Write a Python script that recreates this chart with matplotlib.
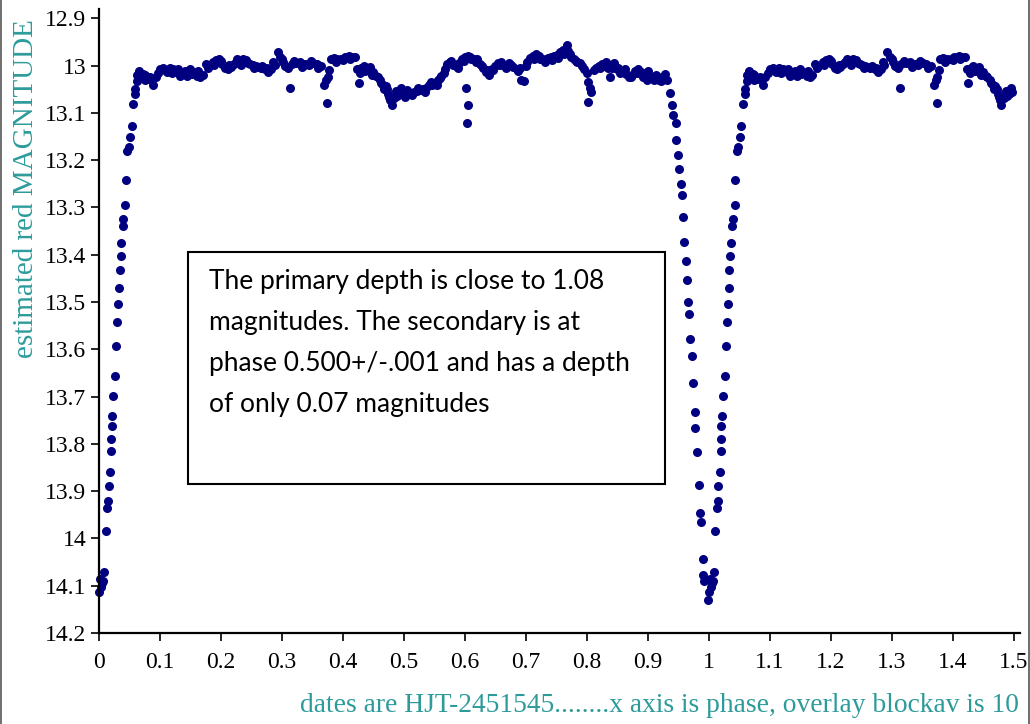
"""Phase-folded light curve of an eclipsing binary (red magnitude)."""
import numpy as np
import matplotlib
matplotlib.use("Agg")
import matplotlib.pyplot as plt
from matplotlib.patches import Rectangle

# --- data (phase 0..1; phase < 0.5 is repeated at +1)
phase_egress = [0.000, 0.002, 0.004, 0.005, 0.007, 0.009, 0.011, 0.0136, 0.0145,
                0.016, 0.018, 0.0197, 0.0205, 0.0208, 0.0218, 0.0234, 0.026,
                0.0279, 0.030, 0.0316, 0.0328, 0.0339, 0.0355, 0.0365, 0.0388,
                0.039, 0.0426, 0.0437, 0.046, 0.0486, 0.051, 0.0536, 0.056,
                0.059, 0.062, 0.066]
mag_egress = [14.114, 14.085, 14.103, 14.095, 14.089, 14.070, 13.984, 13.936, 13.920,
              13.889, 13.860, 13.816, 13.790, 13.763, 13.740, 13.698, 13.657,
              13.592, 13.543, 13.505, 13.471, 13.433, 13.402, 13.375, 13.339,
              13.324, 13.294, 13.242, 13.180, 13.173, 13.150, 13.127, 13.082,
              13.059, 13.033, 13.014]

phase_plateau = [
    0.059, 0.062, 0.066, 0.070, 0.072, 0.075, 0.075, 0.080, 0.084, 0.089, 0.093,
    0.097, 0.100, 0.105, 0.108, 0.111, 0.116, 0.119, 0.121, 0.128, 0.130, 0.133,
    0.138, 0.141, 0.144, 0.149, 0.152, 0.154, 0.161, 0.163, 0.166, 0.170, 0.175,
    0.178, 0.180, 0.187, 0.189, 0.192, 0.197, 0.200, 0.202, 0.207, 0.211, 0.213,
    0.216, 0.221, 0.224, 0.226, 0.231, 0.233, 0.236, 0.241, 0.245, 0.248, 0.252,
    0.255, 0.257, 0.262, 0.265, 0.267, 0.272, 0.275, 0.277, 0.282, 0.285, 0.288,
    0.293, 0.297, 0.300, 0.302, 0.305, 0.310, 0.313, 0.316, 0.320, 0.323, 0.330,
    0.333, 0.336, 0.338, 0.344, 0.347, 0.351, 0.357, 0.360, 0.364, 0.369, 0.372,
    0.374, 0.375, 0.377, 0.380, 0.385, 0.388, 0.390, 0.397, 0.400, 0.403, 0.410,
    0.412, 0.415, 0.420, 0.423, 0.426, 0.428, 0.430, 0.434, 0.437, 0.439, 0.444,
    0.447, 0.449, 0.454, 0.457, 0.461, 0.463, 0.466, 0.468, 0.470, 0.472, 0.474,
    0.476, 0.477, 0.480, 0.484, 0.487, 0.489, 0.492, 0.495, 0.497, 0.502, 0.505,
    0.507, 0.511, 0.514, 0.516, 0.521, 0.524, 0.526, 0.531, 0.534, 0.536, 0.541,
    0.544, 0.546, 0.551, 0.554, 0.556, 0.559, 0.561, 0.566, 0.568, 0.570, 0.575,
    0.578, 0.580, 0.585, 0.588, 0.590, 0.595, 0.598, 0.600, 0.602, 0.603, 0.605,
    0.605, 0.608, 0.610, 0.615, 0.618, 0.620, 0.625, 0.628, 0.630, 0.634, 0.637,
    0.639, 0.644, 0.647, 0.649, 0.654, 0.657, 0.659, 0.664, 0.668, 0.672, 0.676,
    0.679, 0.685, 0.688, 0.690, 0.692, 0.697, 0.700, 0.702, 0.707, 0.711, 0.713,
    0.716, 0.721, 0.723, 0.726, 0.731, 0.733, 0.736, 0.741, 0.743, 0.746, 0.751,
    0.753, 0.756, 0.761, 0.763, 0.767, 0.769, 0.772, 0.774, 0.779, 0.782, 0.784,
    0.789, 0.792, 0.795, 0.800, 0.802, 0.802, 0.805, 0.807, 0.812, 0.815, 0.820,
    0.822, 0.825, 0.830, 0.832, 0.834, 0.838, 0.839, 0.842, 0.844, 0.849, 0.852,
    0.854, 0.859, 0.862, 0.864, 0.869, 0.872, 0.874, 0.879, 0.882, 0.884, 0.889,
    0.892, 0.893, 0.898, 0.901, 0.903, 0.908, 0.911, 0.913, 0.918, 0.921, 0.923,
    0.926, 0.928, 0.931]
mag_plateau = [
    13.050, 13.020, 13.011, 13.025, 13.018, 13.030, 13.020, 13.028, 13.023, 13.040, 13.025,
    13.015, 13.008, 13.006, 13.010, 13.013, 13.004, 13.016, 13.008, 13.013, 13.008, 13.021,
    13.015, 13.012, 13.021, 13.008, 13.018, 13.013, 13.021, 13.012, 13.025, 13.019, 12.996,
    13.006, 13.000, 12.992, 12.998, 12.989, 12.985, 12.990, 12.996, 13.006, 13.008, 12.998,
    13.002, 12.996, 12.993, 12.987, 12.992, 12.998, 12.985, 12.989, 12.994, 12.996, 12.998,
    13.006, 13.000, 13.002, 13.006, 13.000, 13.008, 13.004, 13.013, 13.008, 12.992, 12.998,
    12.972, 12.981, 12.985, 12.992, 13.000, 13.004, 13.047, 12.996, 12.990, 12.994, 12.992,
    13.002, 12.998, 12.996, 12.998, 12.990, 12.994, 12.996, 13.004, 13.000, 13.040, 13.030,
    13.078, 13.023, 13.010, 12.987, 12.983, 12.993, 12.987, 12.985, 12.988, 12.981, 12.979,
    12.985, 12.981, 12.981, 13.008, 13.036, 13.015, 13.004, 13.000, 13.012, 13.008, 13.002,
    13.020, 13.013, 13.021, 13.025, 13.030, 13.036, 13.040, 13.050, 13.044, 13.049, 13.061,
    13.066, 13.072, 13.083, 13.068, 13.053, 13.064, 13.059, 13.048, 13.055, 13.066, 13.052,
    13.061, 13.057, 13.062, 13.055, 13.053, 13.047, 13.051, 13.049, 13.055, 13.047, 13.042,
    13.034, 13.040, 13.038, 13.040, 13.030, 13.026, 13.021, 13.015, 13.008, 12.996, 12.992,
    12.990, 12.998, 13.000, 13.004, 12.994, 12.987, 12.990, 12.981, 13.047, 13.121, 13.083,
    12.979, 12.982, 12.987, 12.985, 12.993, 12.987, 12.996, 13.000, 13.004, 13.013, 13.010,
    13.019, 13.008, 13.010, 13.000, 12.994, 12.998, 12.992, 12.998, 13.006, 12.994, 12.998,
    13.002, 13.008, 13.012, 13.004, 13.030, 13.032, 13.000, 12.992, 12.983, 12.979, 12.987,
    12.975, 12.979, 12.985, 12.987, 12.992, 12.985, 12.983, 12.981, 12.988, 12.979, 12.977,
    12.983, 12.972, 12.966, 12.975, 12.956, 12.970, 12.975, 12.981, 12.987, 12.990, 12.992,
    12.994, 13.000, 13.008, 13.015, 13.034, 13.076, 13.047, 13.055, 13.010, 13.004, 13.000,
    13.006, 12.996, 13.000, 12.992, 13.004, 13.025, 12.998, 13.004, 12.994, 13.008, 13.004,
    13.015, 13.013, 13.008, 13.017, 13.023, 13.025, 13.019, 13.011, 13.016, 13.008, 13.013,
    13.020, 13.025, 13.030, 13.012, 13.021, 13.025, 13.030, 13.019, 13.030, 13.032, 13.023,
    13.025, 13.017, 13.030]

phase_ingress = [0.936, 0.939, 0.941, 0.946, 0.947, 0.950, 0.951, 0.954, 0.956,
                 0.957, 0.959, 0.963, 0.964, 0.966, 0.968, 0.970, 0.972, 0.974,
                 0.977, 0.978, 0.981, 0.984, 0.985, 0.987, 0.990, 0.991, 0.993,
                 0.998]
mag_ingress = [13.057, 13.083, 13.104, 13.121, 13.157, 13.188, 13.218, 13.250, 13.273,
               13.320, 13.372, 13.413, 13.453, 13.500, 13.526, 13.579, 13.615, 13.672,
               13.732, 13.766, 13.818, 13.886, 13.946, 13.966, 14.044, 14.078, 14.089,
               14.130]

x_ticks = [0, 0.1, 0.2, 0.3, 0.4, 0.5, 0.6, 0.7, 0.8, 0.9, 1.0, 1.1, 1.2, 1.3, 1.4, 1.5]
x_labels = ["0", "0.1", "0.2", "0.3", "0.4", "0.5", "0.6", "0.7", "0.8", "0.9",
            "1", "1.1", "1.2", "1.3", "1.4", "1.5"]
y_ticks = [12.9, 13.0, 13.1, 13.2, 13.3, 13.4, 13.5, 13.6, 13.7, 13.8, 13.9, 14.0, 14.1, 14.2]
y_labels = ["12.9", "13", "13.1", "13.2", "13.3", "13.4", "13.5", "13.6", "13.7",
            "13.8", "13.9", "14", "14.1", "14.2"]

note = ("The primary depth is close to 1.08\n"
        "magnitudes. The secondary is at\n"
        "phase 0.500+/-.001 and has a depth\n"
        "of only 0.07 magnitudes")

phase = np.concatenate([phase_egress, phase_plateau, phase_ingress])
mag = np.concatenate([mag_egress, mag_plateau, mag_ingress])
overlay = phase <= 0.5

teal = "#2e9b9b"
navy = "#000080"
serif = ["Liberation Serif", "DejaVu Serif"]

fig = plt.figure(figsize=(10.30, 7.24), dpi=100)
ax = fig.add_axes([0.0961, 0.1257, 0.8939, 0.862])

ax.plot(phase, mag, "o", ms=6.5, mew=0, color=navy, clip_on=False)
ax.plot(phase[overlay] + 1, mag[overlay], "o", ms=6.5, mew=0, color=navy,
        clip_on=False)

ax.set_xlim(0, 1.51)
ax.set_ylim(14.2, 12.88)
ax.set_xticks(x_ticks)
ax.set_xticklabels(x_labels, fontfamily=serif, fontsize=17)
ax.set_yticks(y_ticks)
ax.set_yticklabels(y_labels, fontfamily=serif, fontsize=17)
ax.tick_params(direction="out", length=6, width=1.2, pad=3)
ax.tick_params(axis="x", pad=8)
for side in ("top", "right"):
    ax.spines[side].set_visible(False)
for side in ("left", "bottom"):
    ax.spines[side].set_linewidth(1.6)

fig.text(0.025, 0.74, "estimated red MAGNITUDE", rotation=90, ha="center",
         va="center", color=teal, fontfamily=serif, fontsize=21)
fig.text(0.64, 0.026, "dates are HJT-2451545........x axis is phase, overlay blockav is 10",
         ha="center", va="center", color=teal, fontfamily=serif, fontsize=19.8)

# annotation box
fig.patches.append(Rectangle((0.1825, 0.3315), 0.4631, 0.3204, transform=fig.transFigure,
                             fill=True, facecolor="white", edgecolor="black",
                             linewidth=1.5, zorder=5))
fig.text(0.2029, 0.628, note, ha="left", va="top", fontfamily=["Lato", "DejaVu Sans"],
         fontsize=19, linespacing=1.8, zorder=6)

# thin page border at the left and right edges
fig.add_artist(plt.Line2D([0.0005, 0.0005], [0, 1], transform=fig.transFigure,
                          color="#555555", lw=1.2))
fig.add_artist(plt.Line2D([0.9995, 0.9995], [0, 1], transform=fig.transFigure,
                          color="#555555", lw=1.2))

fig.savefig("out.png", dpi=100)
